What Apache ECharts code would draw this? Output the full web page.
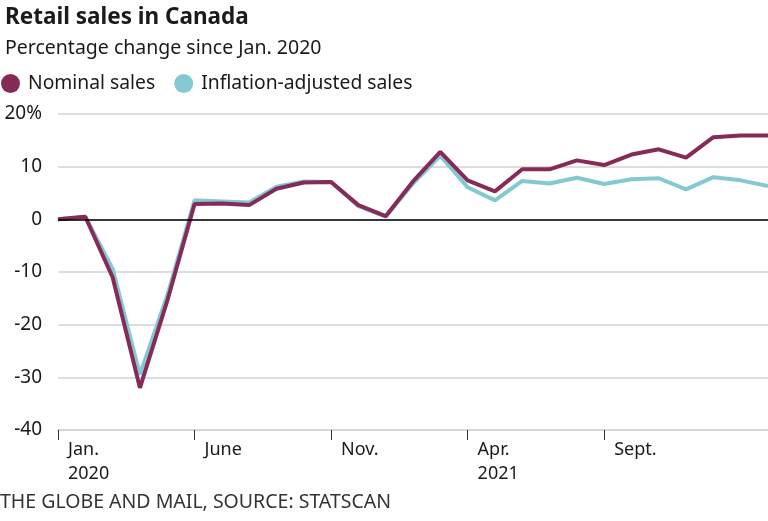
<!DOCTYPE html>
<html>
<head>
<meta charset="utf-8">
<script src="https://cdn.jsdelivr.net/npm/echarts@6/dist/echarts.min.js"></script>
<style>html,body{margin:0;padding:0;background:#fff}#c{width:768px;height:521px}</style>
</head>
<body>
<div id="c"></div>
<script>
var months = ["Jan. 2020","Feb. 2020","Mar. 2020","Apr. 2020","May 2020","June 2020","July 2020","Aug. 2020","Sept. 2020","Oct. 2020","Nov. 2020","Dec. 2020",
  "Jan. 2021","Feb. 2021","Mar. 2021","Apr. 2021","May 2021","June 2021","July 2021","Aug. 2021","Sept. 2021","Oct. 2021","Nov. 2021","Dec. 2021",
  "Jan. 2022","Feb. 2022","Mar. 2022"];
var nominal = [0, 0.5, -11, -32, -15.5, 2.9, 3.0, 2.7, 5.8, 7.0, 7.1, 2.7, 0.6, 7.2, 12.8, 7.4, 5.3, 9.5, 9.5, 11.2, 10.3, 12.3, 13.3, 11.7, 15.6, 15.9, 15.9];
var adjusted = [0, 0.5, -9.4, -29.5, -14.5, 3.6, 3.4, 3.2, 6.2, 7.2, 7.1, 2.5, 0.5, 6.8, 12.1, 6.1, 3.6, 7.3, 6.8, 7.9, 6.7, 7.6, 7.8, 5.7, 8.0, 7.4, 6.3];
var tickIdx = {0:"Jan.\n2020", 5:"June", 10:"Nov.", 15:"Apr.\n2021", 20:"Sept."};
var yTicks = {"20":"20%","10":"10","0":"0","-10":"-10","-20":"-20","-30":"-30","-40":"-40"};

var font = "'Noto Sans', 'Open Sans', sans-serif";
var chart = echarts.init(document.getElementById('c'));
chart.setOption({
  animation: false,
  title: [
    {text: "Retail sales in Canada", left: 0, top: 1, textStyle: {fontFamily: font, fontSize: 22.5, fontWeight: 'bold', color: '#1a1a1a'}},
    {text: "Percentage change since Jan. 2020", left: 0, top: 33, textStyle: {fontFamily: font, fontSize: 19.5, fontWeight: 'normal', color: '#1a1a1a'}}
  ],
  legend: {
    left: -4, top: 69, icon: 'circle', itemWidth: 19, itemHeight: 19, itemGap: 19,
    textStyle: {fontFamily: font, fontSize: 19.3, color: '#1a1a1a', padding: [0,0,0,3]},
    data: ["Nominal sales", "Inflation-adjusted sales"]
  },
  grid: {left: 58, right: 0, top: 114, bottom: 91, containLabel: false},
  xAxis: {
    type: 'category', boundaryGap: false, data: months,
    axisLine: {onZero: false, lineStyle: {color: '#d2d2d2', width: 1.5}},
    axisTick: {show: true, length: 10, interval: function(i){return tickIdx.hasOwnProperty(i);}, lineStyle: {color: '#333', width: 1}},
    axisLabel: {
      interval: function(i){return tickIdx.hasOwnProperty(i);},
      formatter: function(v, i){return tickIdx[i] || "";},
      align: 'left', padding: [0,0,0,10], margin: 8,
      fontFamily: font, fontSize: 18, color: '#1a1a1a', lineHeight: 24
    },
    splitLine: {show: false}
  },
  yAxis: {
    type: 'value', min: -40, max: 20, interval: 10,
    axisLine: {show: false}, axisTick: {show: false},
    axisLabel: {formatter: function(v){return yTicks[String(v)];}, fontFamily: font, fontSize: 19, color: '#1a1a1a', margin: 16},
    splitLine: {lineStyle: {color: '#d2d2d2', width: 1.5}}
  },
  series: [
    {name: "Inflation-adjusted sales", type: 'line', data: adjusted, symbol: 'none', z: 3,
     lineStyle: {color: '#84c9d1', width: 4}, itemStyle: {color: '#84c9d1'},
     markLine: {silent: true, symbol: 'none', label: {show: false}, lineStyle: {color: '#000', width: 1.5, type: 'solid'}, data: [{yAxis: 0}]}},
    {name: "Nominal sales", type: 'line', data: nominal, symbol: 'none', z: 4,
     lineStyle: {color: '#862a58', width: 4}, itemStyle: {color: '#862a58'}}
  ],
  graphic: [
    {type: 'text', left: 0, top: 492, style: {text: "THE GLOBE AND MAIL, SOURCE: STATSCAN", font: "19.5px " + font, fill: '#333'}}
  ]
});
</script>
</body>
</html>
